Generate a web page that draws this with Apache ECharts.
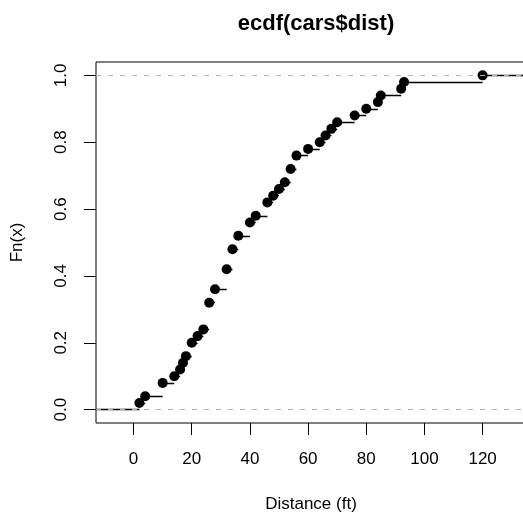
<!DOCTYPE html>
<html>
<head>
<meta charset="utf-8">
<script src="https://cdn.jsdelivr.net/npm/echarts@6/dist/echarts.min.js"></script>
<style>
  html, body { margin: 0; padding: 0; background: #fff; }
  #chart { width: 523px; height: 514px; }
</style>
</head>
<body>
<div id="chart"></div>
<script>
// distinct stopping distances in cars$dist and the ecdf value at each one
const distKnots = [2, 4, 10, 14, 16, 17, 18, 20, 22, 24, 26, 28, 32, 34, 36, 40, 42, 46, 48, 50,
  52, 54, 56, 60, 64, 66, 68, 70, 76, 80, 84, 85, 92, 93, 120];
const cumProb = [0.02, 0.04, 0.08, 0.10, 0.12, 0.14, 0.16, 0.20, 0.22, 0.24, 0.32, 0.36, 0.42, 0.48, 0.52,
  0.56, 0.58, 0.62, 0.64, 0.66, 0.68, 0.72, 0.76, 0.78, 0.80, 0.82, 0.84, 0.86, 0.88, 0.90,
  0.92, 0.94, 0.96, 0.98, 1.00];
const xTicks = [0, 20, 40, 60, 80, 100, 120];
const yTicks = [0, 0.2, 0.4, 0.6, 0.8, 1.0];
const refLines = [0, 1];

// limits the way plot.stepfun does it, then R's 4% axis padding
const kLo = distKnots[0], kHi = distKnots[distKnots.length - 1];
const xLo0 = kLo - 0.08 * (kHi - kLo), xHi0 = kHi + 0.08 * (kHi - kLo);
const xMin = xLo0 - 0.04 * (xHi0 - xLo0);
const xMax = xHi0 + 0.04 * (xHi0 - xLo0);
const yMin = -0.04, yMax = 1.04;

// horizontal steps
const steps = [{ coords: [[xMin, 0], [distKnots[0], 0]] }];
distKnots.forEach((k, i) => {
  const next = i < distKnots.length - 1 ? distKnots[i + 1] : xMax;
  steps.push({ coords: [[k, cumProb[i]], [next, cumProb[i]]] });
});

const font = 'Liberation Sans, Arial, Helvetica, sans-serif';
const chart = echarts.init(document.getElementById('chart'), null, { renderer: 'canvas' });

chart.setOption({
  animation: false,
  backgroundColor: '#fff',
  title: {
    text: 'ecdf(cars$dist)',
    left: 311,
    textAlign: 'center',
    top: 8,
    textStyle: { fontFamily: font, fontSize: 22, fontWeight: 'bold', color: '#000' }
  },
  grid: {
    left: 96, right: -3, top: 62, bottom: 91,
    containLabel: false,
    outerBoundsMode: 'none',
    show: true, borderColor: '#000', borderWidth: 1, backgroundColor: 'transparent'
  },
  xAxis: {
    type: 'value',
    min: xMin, max: xMax,
    name: 'Distance (ft)',
    nameLocation: 'middle',
    nameGap: 73,
    nameTextStyle: { fontFamily: font, fontSize: 17, color: '#000' },
    axisLine: { show: false, onZero: false },
    splitLine: { show: false },
    axisTick: { show: true, length: 12, customValues: xTicks, lineStyle: { color: '#000' } },
    axisLabel: {
      customValues: xTicks, margin: 28,
      fontFamily: font, fontSize: 17, color: '#000'
    }
  },
  yAxis: {
    type: 'value',
    min: yMin, max: yMax,
    name: 'Fn(x)',
    nameLocation: 'middle',
    nameRotate: 90,
    nameGap: 70,
    nameTextStyle: { fontFamily: font, fontSize: 17, color: '#000' },
    axisLine: { show: false, onZero: false },
    splitLine: { show: false },
    axisTick: { show: true, length: 12, customValues: yTicks, lineStyle: { color: '#000' } },
    axisLabel: {
      customValues: yTicks, rotate: 90, margin: 26,
      fontFamily: font, fontSize: 17, color: '#000',
      formatter: v => v.toFixed(1)
    }
  },
  series: [
    {
      type: 'lines',
      coordinateSystem: 'cartesian2d',
      polyline: false,
      silent: true,
      z: 2,
      lineStyle: { color: '#000', width: 1.3, opacity: 1 },
      data: steps
    },
    {
      type: 'scatter',
      silent: true,
      z: 3,
      data: [],
      markLine: {
        silent: true,
        symbol: 'none',
        label: { show: false },
        lineStyle: { color: '#b3b3b3', type: [5, 7], width: 1.2 },
        data: refLines.map(v => ({ yAxis: v }))
      }
    },
    {
      type: 'scatter',
      silent: true,
      z: 4,
      symbolSize: 10,
      itemStyle: { color: '#000', opacity: 1 },
      data: distKnots.map((k, i) => [k, cumProb[i]])
    }
  ]
});
</script>
</body>
</html>
